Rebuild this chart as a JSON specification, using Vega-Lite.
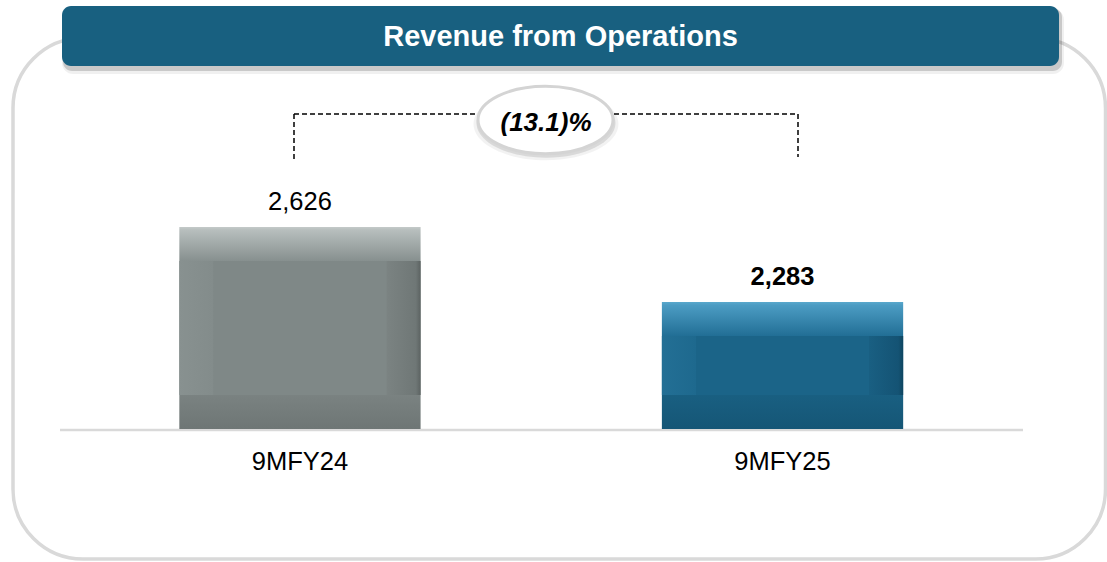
{
  "$schema": "https://vega.github.io/schema/vega-lite/v6.json",
  "width": 1107,
  "height": 562,
  "autosize": {"type": "none"},
  "padding": 0,
  "background": "white",
  "config": {"view": {"stroke": null}, "font": "Liberation Sans"},
  "data": {"values": [
    {"period": "9MFY24", "revenue": 2626, "label": "2,626"},
    {"period": "9MFY25", "revenue": 2283, "label": "2,283"}
  ]},
  "resolve": {"scale": {"x": "independent", "y": "independent"}, "axis": {"x": "independent", "y": "independent"}},
  "layer": [
    {
      "data": {"values": [{}]},
      "layer": [
        {
          "mark": {"type": "rect", "fill": "white", "stroke": "#d9d9d9", "strokeWidth": 3.5, "cornerRadius": 70},
          "encoding": {
            "x": {"datum": 13, "type": "quantitative", "scale": {"domain": [0, 1107], "nice": false, "zero": false}, "axis": null},
            "x2": {"datum": 1105.5},
            "y": {"datum": 38, "type": "quantitative", "scale": {"domain": [0, 562], "reverse": true, "nice": false, "zero": false}, "axis": null},
            "y2": {"datum": 559}
          }
        },
        {
          "mark": {"type": "rect", "fill": "black", "opacity": 0.06, "cornerRadius": 11},
          "encoding": {
            "x": {"datum": 62, "type": "quantitative", "scale": {"domain": [0, 1107], "nice": false, "zero": false}, "axis": null},
            "x2": {"datum": 1064},
            "y": {"datum": 9, "type": "quantitative", "scale": {"domain": [0, 562], "reverse": true, "nice": false, "zero": false}, "axis": null},
            "y2": {"datum": 74}
          }
        },
        {
          "mark": {"type": "rect", "fill": "black", "opacity": 0.16, "cornerRadius": 9},
          "encoding": {
            "x": {"datum": 63, "type": "quantitative", "scale": {"domain": [0, 1107], "nice": false, "zero": false}, "axis": null},
            "x2": {"datum": 1062},
            "y": {"datum": 8, "type": "quantitative", "scale": {"domain": [0, 562], "reverse": true, "nice": false, "zero": false}, "axis": null},
            "y2": {"datum": 71}
          }
        },
        {
          "mark": {"type": "rect", "fill": "#186080", "cornerRadius": 9},
          "encoding": {
            "x": {"datum": 62, "type": "quantitative", "scale": {"domain": [0, 1107], "nice": false, "zero": false}, "axis": null},
            "x2": {"datum": 1059},
            "y": {"datum": 6, "type": "quantitative", "scale": {"domain": [0, 562], "reverse": true, "nice": false, "zero": false}, "axis": null},
            "y2": {"datum": 66}
          }
        },
        {
          "mark": {"type": "text", "text": "Revenue from Operations", "fontSize": 29, "fontWeight": "bold", "fill": "white", "align": "center", "baseline": "middle"},
          "encoding": {
            "x": {"datum": 560.5, "type": "quantitative", "scale": {"domain": [0, 1107], "nice": false, "zero": false}, "axis": null},
            "y": {"datum": 37, "type": "quantitative", "scale": {"domain": [0, 562], "reverse": true, "nice": false, "zero": false}, "axis": null}
          }
        },
        {
          "mark": {"type": "rule", "stroke": "#000000", "strokeWidth": 1.5, "strokeDash": [5, 3]},
          "encoding": {
            "x": {"datum": 294, "type": "quantitative", "scale": {"domain": [0, 1107], "nice": false, "zero": false}, "axis": null},
            "x2": {"datum": 798},
            "y": {"datum": 114, "type": "quantitative", "scale": {"domain": [0, 562], "reverse": true, "nice": false, "zero": false}, "axis": null}
          }
        },
        {
          "mark": {"type": "rule", "stroke": "#000000", "strokeWidth": 1.5, "strokeDash": [5, 3]},
          "encoding": {
            "x": {"datum": 294, "type": "quantitative", "scale": {"domain": [0, 1107], "nice": false, "zero": false}, "axis": null},
            "y": {"datum": 114, "type": "quantitative", "scale": {"domain": [0, 562], "reverse": true, "nice": false, "zero": false}, "axis": null},
            "y2": {"datum": 161}
          }
        },
        {
          "mark": {"type": "rule", "stroke": "#000000", "strokeWidth": 1.5, "strokeDash": [5, 3]},
          "encoding": {
            "x": {"datum": 798, "type": "quantitative", "scale": {"domain": [0, 1107], "nice": false, "zero": false}, "axis": null},
            "y": {"datum": 114, "type": "quantitative", "scale": {"domain": [0, 562], "reverse": true, "nice": false, "zero": false}, "axis": null},
            "y2": {"datum": 157}
          }
        },
        {
          "mark": {"type": "point", "shape": "M-1,0A1,0.5,0,1,0,1,0A1,0.5,0,1,0,-1,0Z", "size": 21025, "filled": true, "fill": "black", "strokeWidth": 0, "opacity": 0.05},
          "encoding": {
            "x": {"datum": 546, "type": "quantitative", "scale": {"domain": [0, 1107], "nice": false, "zero": false}, "axis": null},
            "y": {"datum": 124, "type": "quantitative", "scale": {"domain": [0, 562], "reverse": true, "nice": false, "zero": false}, "axis": null}
          }
        },
        {
          "mark": {"type": "point", "shape": "M-1,0A1,0.5,0,1,0,1,0A1,0.5,0,1,0,-1,0Z", "size": 19321, "filled": true, "fill": "black", "strokeWidth": 0, "opacity": 0.1},
          "encoding": {
            "x": {"datum": 546, "type": "quantitative", "scale": {"domain": [0, 1107], "nice": false, "zero": false}, "axis": null},
            "y": {"datum": 123, "type": "quantitative", "scale": {"domain": [0, 562], "reverse": true, "nice": false, "zero": false}, "axis": null}
          }
        },
        {
          "mark": {"type": "point", "shape": "M-1,0A1,0.5,0,1,0,1,0A1,0.5,0,1,0,-1,0Z", "size": 18225, "filled": true, "fill": "white", "stroke": "#d4d4d4", "strokeWidth": 3, "opacity": 1},
          "encoding": {
            "x": {"datum": 545.5, "type": "quantitative", "scale": {"domain": [0, 1107], "nice": false, "zero": false}, "axis": null},
            "y": {"datum": 120, "type": "quantitative", "scale": {"domain": [0, 562], "reverse": true, "nice": false, "zero": false}, "axis": null}
          }
        },
        {
          "mark": {"type": "text", "text": "(13.1)%", "fontSize": 26, "fontWeight": "bold", "fontStyle": "italic", "fill": "black", "align": "center", "baseline": "middle"},
          "encoding": {
            "x": {"datum": 546, "type": "quantitative", "scale": {"domain": [0, 1107], "nice": false, "zero": false}, "axis": null},
            "y": {"datum": 123, "type": "quantitative", "scale": {"domain": [0, 562], "reverse": true, "nice": false, "zero": false}, "axis": null}
          }
        },
        {
          "mark": {"type": "rule", "stroke": "#d9d9d9", "strokeWidth": 2.5},
          "encoding": {
            "x": {"datum": 60, "type": "quantitative", "scale": {"domain": [0, 1107], "nice": false, "zero": false}, "axis": null},
            "x2": {"datum": 1023},
            "y": {"datum": 430, "type": "quantitative", "scale": {"domain": [0, 562], "reverse": true, "nice": false, "zero": false}, "axis": null}
          }
        }
      ]
    },
    {
      "encoding": {
        "x": {
          "field": "period", "type": "nominal",
          "scale": {"domain": ["9MFY24", "9MFY25"], "paddingInner": 0.5, "paddingOuter": 0.397, "align": 0.468},
          "axis": null
        },
        "y": {"field": "revenue", "type": "quantitative", "scale": {"domain": [1094, 3664], "nice": false, "zero": false}, "axis": null}
      },
      "layer": [
        {
          "transform": [{"filter": "datum.period === '9MFY24'"}],
          "mark": {"type": "bar", "fill": {"gradient": "linear", "x1": 0, "y1": 0, "x2": 0, "y2": 1, "stops": [
            {"offset": 0, "color": "#c4cac9"}, {"offset": 0.015, "color": "#b7bebd"}, {"offset": 0.168, "color": "#87908f"},
            {"offset": 0.17, "color": "#7f8887"}, {"offset": 0.83, "color": "#7f8887"}, {"offset": 0.832, "color": "#7a8281"}, {"offset": 1, "color": "#6e7675"}]}},
          "encoding": {"y2": {"datum": 1702}}
        },
        {
          "transform": [{"filter": "datum.period === '9MFY24'"}],
          "mark": {"type": "bar", "yOffset": 34, "y2Offset": -34, "fill": {"gradient": "linear", "x1": 0, "y1": 0, "x2": 1, "y2": 0, "stops": [
            {"offset": 0, "color": "#889190"}, {"offset": 0.14, "color": "#838c8b"}, {"offset": 0.142, "color": "#7f8887"},
            {"offset": 0.858, "color": "#7f8887"}, {"offset": 0.86, "color": "#7b8382"}, {"offset": 0.98, "color": "#6f7776"}, {"offset": 1, "color": "#5c6362"}]}},
          "encoding": {"y2": {"datum": 1702}}
        },
        {
          "transform": [{"filter": "datum.period === '9MFY25'"}],
          "mark": {"type": "bar", "fill": {"gradient": "linear", "x1": 0, "y1": 0, "x2": 0, "y2": 1, "stops": [
            {"offset": 0, "color": "#5aa8cc"}, {"offset": 0.025, "color": "#4c9cc3"}, {"offset": 0.265, "color": "#226f96"},
            {"offset": 0.268, "color": "#1b6488"}, {"offset": 0.732, "color": "#1b6488"}, {"offset": 0.735, "color": "#195f81"}, {"offset": 1, "color": "#155676"}]}},
          "encoding": {"y2": {"datum": 1702}}
        },
        {
          "transform": [{"filter": "datum.period === '9MFY25'"}],
          "mark": {"type": "bar", "yOffset": 34, "y2Offset": -34, "fill": {"gradient": "linear", "x1": 0, "y1": 0, "x2": 1, "y2": 0, "stops": [
            {"offset": 0, "color": "#236f95"}, {"offset": 0.14, "color": "#1e698e"}, {"offset": 0.142, "color": "#1b6488"},
            {"offset": 0.858, "color": "#1b6488"}, {"offset": 0.86, "color": "#195f82"}, {"offset": 0.98, "color": "#145374"}, {"offset": 1, "color": "#0f4660"}]}},
          "encoding": {"y2": {"datum": 1702}}
        },
        {
          "transform": [{"filter": "datum.period === '9MFY24'"}],
          "mark": {"type": "text", "fontSize": 25.5, "fontWeight": "normal", "fill": "black", "align": "center", "baseline": "middle", "dy": -24.5},
          "encoding": {"text": {"field": "label"}}
        },
        {
          "transform": [{"filter": "datum.period === '9MFY25'"}],
          "mark": {"type": "text", "fontSize": 25.5, "fontWeight": "bold", "fill": "black", "align": "center", "baseline": "middle", "dy": -24.5},
          "encoding": {"text": {"field": "label"}}
        },
        {
          "mark": {"type": "text", "fontSize": 25.5, "fill": "black", "align": "center", "baseline": "middle", "dy": 33},
          "encoding": {"text": {"field": "period"}, "y": {"datum": 1702}}
        }
      ]
    }
  ]
}
